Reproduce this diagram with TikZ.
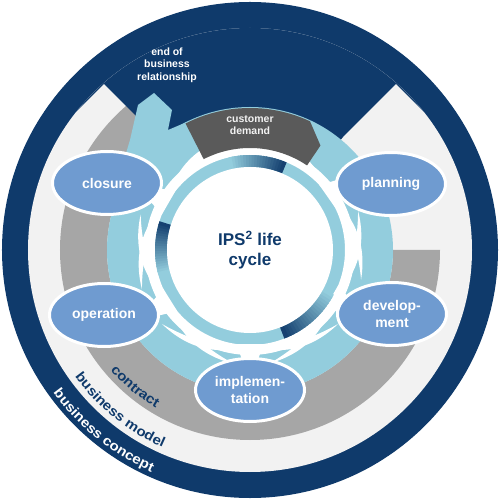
\documentclass[tikz,border=0pt]{standalone}
\usepackage{fontspec}
\setmainfont{Liberation Sans}
\newfontfamily\framefont[FakeStretch=1.12]{Liberation Sans}
\usetikzlibrary{shapes.geometric,decorations.text}
\definecolor{navy}{HTML}{0F3A6B}
\definecolor{paleg}{HTML}{F2F2F2}
\definecolor{midg}{HTML}{A6A6A6}
\definecolor{darkg}{HTML}{5A5A5A}
\definecolor{lblue}{HTML}{93CDDD}
\definecolor{phaseblue}{HTML}{6F9BD0}
\tikzset{
  phase/.style={ellipse, fill=phaseblue, draw=white, line width=3pt,
    minimum width=109pt, minimum height=63pt, inner sep=0pt,
    text=white, align=center, font=\bfseries\fontsize{14}{17}\selectfont},
  label/.style={align=center, font=\bfseries\fontsize{10.5}{12.5}\selectfont},
  frametext/.style 2 args={decorate, decoration={text along path,
    text align=center, text color=#1,
    text={|\framefont\bfseries\fontsize{13.5}{13.5}\selectfont|#2}}},
}
\begin{document}
\begin{tikzpicture}[x=1pt,y=1pt]
  \useasboundingbox (-250,-250) rectangle (250,250);
  % rings
  \fill[navy] (0,0) circle (248);
  \fill[paleg] (0,0) circle (222);
  \fill[midg] (0:190) arc[start angle=0,end angle=-270,radius=190]
    -- (90:143) arc[start angle=90,end angle=360,radius=143] -- cycle;
  \begin{scope}
    \clip (0,0) circle (222);
    \fill[navy] (-250,62) -- (-146,166) -- (-110,130) -- (0,0) -- (93,113)
      -- (146,166) -- (250,62) -- (250,250) -- (-250,250) -- cycle;
  \end{scope}
  % life cycle
  \fill[lblue] (0,0) circle (143);
  \fill[lblue] (-134,45) -- (-126,90) -- (-120,110) -- (-112,145) -- (-96,157)
    -- (-78,140) -- (-82,120) -- (-63,128) -- (-50,100) -- (-80,60) -- (-120,20) -- cycle;
  \draw[white, line width=10pt] (0,0) circle (100);
  \foreach \f in {35,-30,-90,212,150} {
    \fill[white] (\f+50:115) .. controls (\f+28:119) and (\f+14:104) .. (\f+6:99)
      .. controls (\f+16:100) and (\f+30:108) .. (\f+50:115) -- cycle;
    \fill[white] (\f-50:115) .. controls (\f-28:119) and (\f-14:104) .. (\f-6:99)
      .. controls (\f-16:100) and (\f-30:108) .. (\f-50:115) -- cycle;
    \fill[white] (\f-8:95) -- (\f+8:95) -- (\f+4:111) -- (\f-4:111) -- cycle;
  }
  \fill[darkg] (117:142) arc[start angle=117,end angle=65,radius=142]
    -- (56:126) -- (56:102) arc[start angle=56,end angle=117,radius=102] -- cycle;
  \foreach \t/\h in {103/68, 195/163, 332/292} {
    \foreach \k in {0,...,19} {
      \pgfmathsetmacro\a{\t+(\h-\t)*\k/20}
      \pgfmathsetmacro\b{\t+(\h-\t)*(\k+1.4)/20}
      \pgfmathsetmacro\p{\k*5}
      \fill[navy!\p!lblue] (\a:83) arc[start angle=\a,end angle=\b,radius=83]
        -- (\b:95) arc[start angle=\b,end angle=\a,radius=95] -- cycle;
    }
  }
  \fill[white] (0,0) circle (83);
  % phases
  \node[phase] (closure) at (-143,67) {closure};
  \node[phase] (planning) at (141,66) {planning};
  \node[phase] (operation) at (-146,-65) {operation};
  \node[phase] (development) at (142,-64) {develop-\\ment};
  \node[phase] (implementation) at (0,-140) {implemen-\\tation};
  \node[text=navy, align=center, font=\bfseries\fontsize{17}{20}\selectfont]
    (title) at (0,0) {IPS\textsuperscript{2} life\\cycle};
  \node[label, text=white] (endrel) at (-83,185) {end of\\business\\relationship};
  \node[label, text=paleg] (demand) at (0,125) {customer\\demand};
  % frame texts
  \path[frametext={navy}{contract}]
    (200:184) arc[start angle=200,end angle=260,radius=184];
  \path[frametext={navy}{business model}]
    (200:216) arc[start angle=200,end angle=262,radius=216];
  \path[frametext={white}{business concept}]
    (200:243) arc[start angle=200,end angle=262,radius=243];
\end{tikzpicture}
\end{document}
